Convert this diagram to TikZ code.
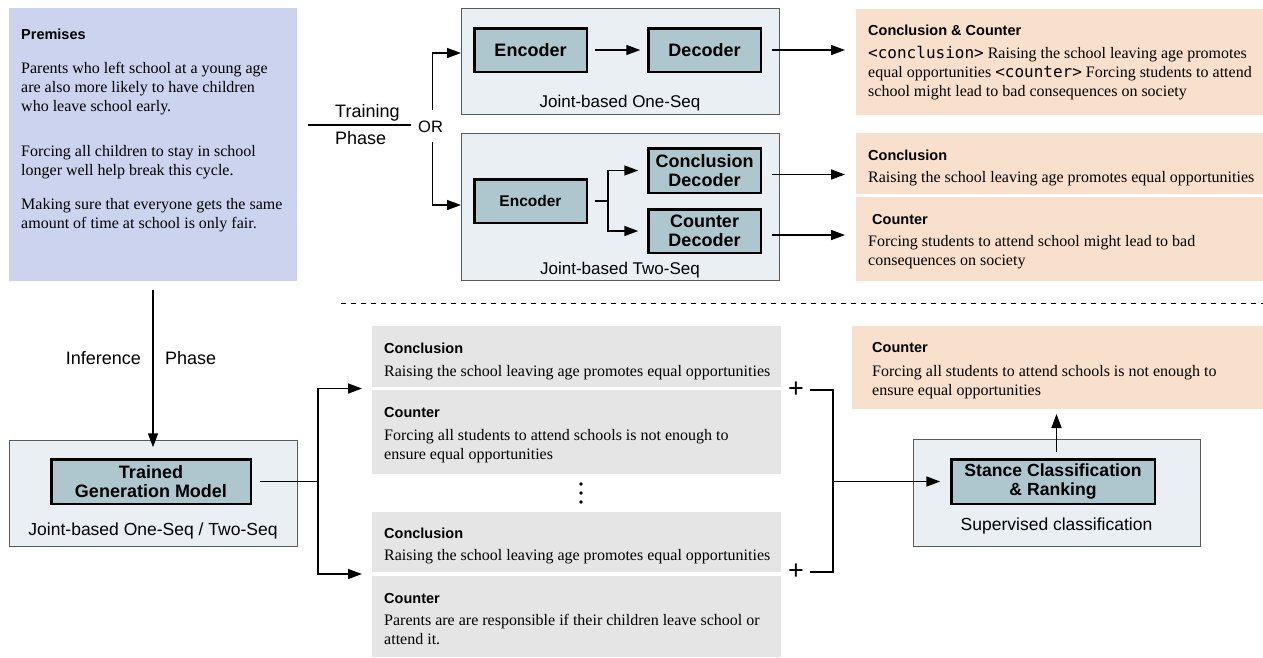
\documentclass[tikz,border=0pt]{standalone}
\usepackage{fontspec}
\setmainfont{Liberation Serif}
\setsansfont{Liberation Sans}
\setmonofont{DejaVu Sans Mono}
\usetikzlibrary{arrows.meta,calc}
\definecolor{lav}{RGB}{203,211,239}
\definecolor{outerc}{RGB}{233,239,242}
\definecolor{framec}{RGB}{90,90,90}
\definecolor{innerc}{RGB}{174,198,205}
\definecolor{grayc}{RGB}{229,229,229}
\definecolor{orangec}{RGB}{249,224,204}
\newcommand\fsz[2]{\fontsize{#1}{#2}\selectfont}
\newcommand\pb[1]{\parbox[t]{480pt}{#1}}
\begin{document}
\begin{tikzpicture}[x=1pt,y=-1pt,
 box/.style={inner sep=0pt,outer sep=0pt,draw=none},
 premisebox/.style={box,fill=lav},
 outerbox/.style={box,fill=outerc,draw=framec,line width=1pt},
 inbox/.style={inner sep=0pt,outer sep=0pt,fill=innerc,draw=black,line width=2.5pt,align=center,font=\sffamily\bfseries\fsz{18}{19.5}},
 obox/.style={box,fill=orangec},
 gbox/.style={box,fill=grayc},
 ttl/.style={inner sep=0pt,anchor=base west,font=\sffamily\bfseries\fsz{14.5}{17}},
 txt/.style={inner sep=0pt,anchor=base west,font=\fsz{16}{19.2}},
 lbl/.style={inner sep=0pt,anchor=base,font=\sffamily\fsz{17}{19}},
 phase/.style={inner sep=0pt,font=\sffamily\fsz{18}{20}},
 plusn/.style={inner sep=0pt,font=\sffamily\fsz{27}{27}},
 arr/.style={-{Triangle[length=14pt,width=10pt]},line width=1.5pt},
 ln/.style={line width=1.5pt},
 dotn/.style={circle,fill=black,inner sep=0pt,minimum size=3.6pt},
]
\useasboundingbox (0,0) rectangle (1263,657);
\fill[white] (0,0) rectangle (1263,657);

% ---------- boxes ----------
\node[premisebox,minimum width=288pt,minimum height=273pt] (prem) at (153,144.5) {};
\node[outerbox,minimum width=318pt,minimum height=105.5pt] (one) at (620.5,61.25) {};
\node[outerbox,minimum width=318pt,minimum height=147pt] (two) at (620.5,207) {};
\node[inbox,minimum width=112.5pt,minimum height=43.5pt] (enc1) at (530.5,50) {Encoder};
\node[inbox,minimum width=112.5pt,minimum height=43.5pt] (dec1) at (704.5,50) {Decoder};
\node[inbox,minimum width=112.5pt,minimum height=43.5pt,font=\sffamily\bfseries\fsz{15.5}{17}] (enc2) at (530.5,201) {Encoder};
\node[inbox,minimum width=112.5pt,minimum height=44.5pt] (cdec) at (704.5,170.5) {Conclusion\\Decoder};
\node[inbox,minimum width=112.5pt,minimum height=43.5pt] (kdec) at (704.5,231) {Counter\\Decoder};
\node[obox,minimum width=407pt,minimum height=106pt] (oc1) at (1059.5,62) {};
\node[obox,minimum width=407pt,minimum height=60.5pt] (oc2) at (1059.5,163.25) {};
\node[obox,minimum width=407pt,minimum height=83.5pt] (oc3) at (1059.5,238.75) {};

\node[outerbox,minimum width=288pt,minimum height=106pt] (tout) at (153,493) {};
\node[inbox,minimum width=199.5pt,minimum height=44.5pt] (tgm) at (151,481.5) {Trained\\Generation Model};
\node[gbox,minimum width=409pt,minimum height=61pt] (g1) at (576.5,356.5) {};
\node[gbox,minimum width=409pt,minimum height=84pt] (g2) at (576.5,432) {};
\node[gbox,minimum width=409pt,minimum height=60pt] (g3) at (576.5,542) {};
\node[gbox,minimum width=409pt,minimum height=81pt] (g4) at (576.5,616.5) {};
\node[obox,minimum width=411pt,minimum height=83pt] (oc4) at (1057.5,367.5) {};
\node[outerbox,minimum width=287pt,minimum height=106.5pt] (sout) at (1056.5,492.75) {};
\node[inbox,minimum width=203.5pt,minimum height=44.5pt,font=\sffamily\bfseries\fsz{17.6}{18.5}] (sci) at (1053,481.5) {Stance Classification\\\& Ranking};

% ---------- texts ----------
\node[ttl] (premt) at (21,39) {Premises};
\node[txt] (p1) at (21,73.3) {\pb{Parents who left school at a young age\\are also more likely to have children\\who leave school early.}};
\node[txt] (p2) at (21,156.7) {\pb{Forcing all children to stay in school\\longer well help break this cycle.}};
\node[txt] (p3) at (21,209) {\pb{Making sure that everyone gets the same\\amount of time at school is only fair.}};

\node[ttl] (oc1t) at (868,35) {Conclusion \& Counter};
\node[txt] (oc1x) at (868,58.3) {\pb{\texttt{<conclusion>} Raising the school leaving age promotes\\equal opportunities \texttt{<counter>} Forcing students to attend\\school might lead to bad consequences on society}};
\node[ttl] (oc2t) at (868,160) {Conclusion};
\node[txt] (oc2x) at (868,182.7) {Raising the school leaving age promotes equal opportunities};
\node[ttl] (oc3t) at (872,224) {Counter};
\node[txt] (oc3x) at (868,246.7) {\pb{Forcing students to attend school might lead to bad\\consequences on society}};

\node[ttl] (g1t) at (384,353) {Conclusion};
\node[txt] (g1x) at (384,376) {Raising the school leaving age promotes equal opportunities};
\node[ttl] (g2t) at (384,417) {Counter};
\node[txt] (g2x) at (384,440) {\pb{Forcing all students to attend schools is not enough to\\ensure equal opportunities}};
\node[ttl] (g3t) at (384,538) {Conclusion};
\node[txt] (g3x) at (384,560.7) {Raising the school leaving age promotes equal opportunities};
\node[ttl] (g4t) at (384,603) {Counter};
\node[txt] (g4x) at (384,625) {\pb{Parents are are responsible if their children leave school or\\attend it.}};
\node[ttl] (oc4t) at (872,352) {Counter};
\node[txt] (oc4x) at (872,376) {\pb{Forcing all students to attend schools is not enough to\\ensure equal opportunities}};

\node[lbl] (onel) at (620,107) {Joint-based One-Seq};
\node[lbl] (twol) at (620,274) {Joint-based Two-Seq};
\node[lbl,font=\sffamily\fsz{17.5}{19}] (toutl) at (153,535) {Joint-based One-Seq / Two-Seq};
\node[lbl,font=\sffamily\fsz{17.5}{19}] (soutl) at (1056.5,530.7) {Supervised classification};

\node[phase,anchor=base west] (trn) at (335,117.3) {Training};
\node[phase,anchor=base west] (trp) at (335,144.3) {Phase};
\node[inner sep=0pt,anchor=base west,font=\sffamily\fsz{16.5}{18}] (or) at (418,132.7) {OR};
\node[phase,anchor=base east] (inf) at (141,364) {Inference};
\node[phase,anchor=base west] (infp) at (165,364) {Phase};

\node[plusn] (plus1) at (796,390) {+};
\node[plusn] (plus2) at (796,572) {+};

\node[dotn] (dt1) at (581,484) {};
\node[dotn] (dt2) at (581,493) {};
\node[dotn] (dt3) at (581,502) {};

% ---------- coordinates ----------
\coordinate (tl) at (308,125);
\coordinate (tr) at (411,125);
\coordinate (orT) at (432.7,110);
\coordinate (orB) at (432.7,142);
\coordinate (in1) at (461,53);
\coordinate (in2) at (461,205);
\coordinate (br2) at (608,201);
\coordinate (br3) at (318,481.5);
\coordinate (bk) at (833,481.5);
\coordinate (d1) at (341,303);
\coordinate (d2) at (1263,303);

% ---------- connectors ----------
\draw[ln] (tl) -- (tr);
\draw[arr] (orT) |- (in1);
\draw[arr] (orB) |- (in2);
\draw[arr] ([xshift=8pt]enc1.east) -- ([xshift=-8pt]dec1.west);
\draw[arr] ([xshift=11pt]dec1.east) -- ($(oc1.west |- dec1.east)+(-11,0)$);
\draw[ln] ([xshift=8pt]enc2.east) -- (br2);
\draw[arr] (br2) |- ([xshift=-10pt]cdec.west);
\draw[arr] (br2) |- ([xshift=-10pt]kdec.west);
\draw[arr] ($(cdec.east)+(11,4)$) -- ($(oc2.west |- cdec.east)+(-11,4)$);
\draw[arr] ($(kdec.east)+(11,4)$) -- ($(oc3.west |- kdec.east)+(-11,4)$);

\draw[dashed,dash pattern=on 5pt off 5pt,line width=0.8pt] (d1) -- (d2);

\draw[arr] ($(prem.south)+(0,9)$) -- ($(tgm.north -| prem.south)+(0,-12)$);
\draw[ln] ([xshift=9pt]tgm.east) -- (br3);
\draw[arr] (br3) |- ($(g1.south west)!0.5!(g2.north west)+(-10,0)$);
\draw[arr] (br3) |- ($(g3.south west)!0.5!(g4.north west)+(-10,0)$);
\draw[ln] ([xshift=6pt]plus1.east) -| (bk);
\draw[ln] ([xshift=6pt]plus2.east) -| (bk);
\draw[arr] (bk) -- ([xshift=-11pt]sci.west);
\draw[arr] ($(sci.north)+(3.5,-7)$) -- ($(oc4.south -| sci.north)+(3.5,5)$);
\end{tikzpicture}
\end{document}
